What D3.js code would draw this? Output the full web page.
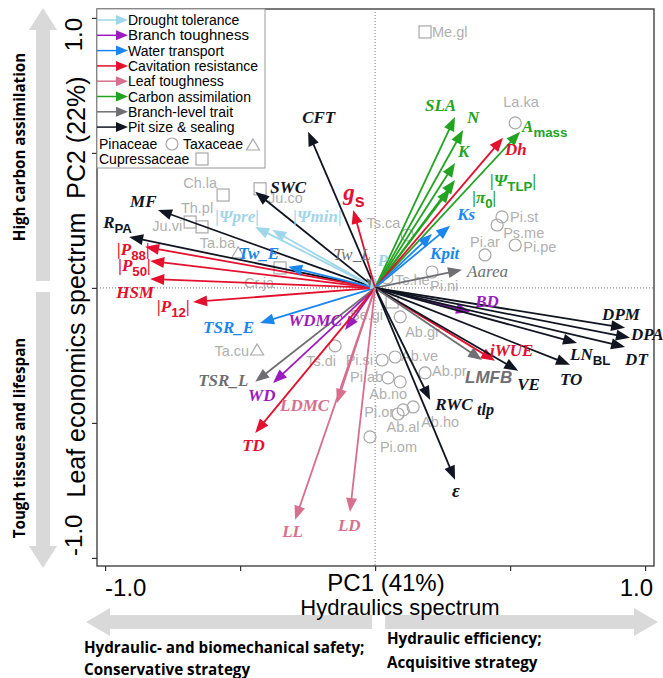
<!DOCTYPE html>
<html>
<head>
<meta charset="utf-8">
<script src="https://cdn.jsdelivr.net/npm/d3@7"></script>
<style>
  body { margin: 0; background: #fff; }
</style>
</head>
<body>
<div id="chart"></div>
<script>
// trait groups (legend order)
const groups = ["Drought tolerance", "Branch toughness", "Water transport", "Cavitation resistance",
  "Leaf toughness", "Carbon assimilation", "Branch-level trait", "Pit size & sealing"];
const groupColors = ["#9fd6ea", "#9b1cbd", "#1a86f0", "#e3102e", "#d6708e", "#22a323", "#6f6f73", "#111521"];

// trait loadings on PC1 / PC2
const traitNames = ["CFT", "SWC", "MF", "R_{PA}", "|P_{88}|", "|P_{50}|", "HSM", "|P_{12}|", "TSR_E", "Tw_E",
  "|Ψpre|", "|Ψmin|", "Tw_L", "P", "g_{s}", "SLA", "N", "K", "|Ψ_{TLP}|", "|π_{0}|",
  "A_{mass}", "Dh", "Ks", "Kpit", "Aarea", "BD", "DPM", "DPA", "DT", "LN_{BL}",
  "TO", "iWUE", "VE", "LMFB", "RWC _[tlp]", "ε", "WDMC", "WD", "TSR_L", "TD", "LDMC", "LL", "LD"];
const traitGroup = [7, 7, 7, 7, 3, 3, 3, 3, 2, 2,
  0, 0, 6, 0, 3, 5, 5, 5, 5, 5,
  5, 3, 2, 2, 6, 1, 7, 7, 7, 7,
  7, 3, 7, 6, 7, 7, 1, 1, 6, 3, 4, 4, 4];
const traitPC1 = [-0.248, -0.444, -0.804, -0.911, -0.852, -0.833, -0.833, -0.674, -0.426, -0.322,
  -0.444, -0.381, -0.033, -0.01, -0.081, 0.296, 0.326, 0.296, 0.296, 0.278,
  0.537, 0.474, 0.278, 0.211, 0.322, 0.352, 0.926, 0.944, 0.926, 0.748,
  0.722, 0.444, 0.530, 0.396, 0.204, 0.296, -0.111, -0.378, -0.444, -0.444, -0.141, -0.296, -0.093];
const traitPC2 = [0.578, 0.356, 0.289, 0.189, 0.152, 0.100, 0.033, -0.052, -0.130, 0.078,
  0.226, 0.215, 0.037, 0.05, 0.289, 0.633, 0.585, 0.463, 0.400, 0.367,
  0.578, 0.556, 0.230, 0.200, 0.067, -0.089, -0.148, -0.185, -0.219, -0.204,
  -0.285, -0.270, -0.307, -0.267, -0.415, -0.711, -0.156, -0.352, -0.348, -0.537, -0.426, -0.859, -0.830];

// species scores
const families = ["Pinaceae", "Taxaceae", "Cupressaceae"];
const speciesNames = ["Me.gl", "La.ka", "Ch.la", "Th.pl", "Ju.vi", "Ta.ba", "Ju.co", "Cr.ja", "Ts.ca", "Ts.he",
  "Pi.ni", "Pi.st", "Ps.me", "Pi.pe", "Pi.ar", "Se.gi", "Ab.gr", "Ts.di", "Pi.si", "Ab.ve",
  "Pi.ab", "Ab.pr", "Ab.no", "Pi.or", "Ab.ho", "Ab.al", "Pi.om", "Ta.cu"];
const speciesFamily = [2, 0, 2, 2, 2, 1, 2, 2, 0, 0,
  0, 0, 0, 0, 0, 2, 0, 0, 0, 0,
  0, 0, 0, 0, 0, 0, 0, 1];
const speciesPC1 = [0.185, 0.519, -0.563, -0.641, -0.685, -0.507, -0.426, -0.352, 0.119, 0.044,
  0.211, 0.470, 0.452, 0.519, 0.407, 0.063, 0.093, -0.148, 0.026, 0.074,
  0.048, 0.185, 0.093, 0.104, 0.141, 0.085, -0.019, -0.437];
const speciesPC2 = [0.948, 0.611, 0.344, 0.226, 0.244, 0.130, 0.367, 0.074, 0.196, 0.037,
  0.059, 0.263, 0.233, 0.159, 0.122, -0.052, -0.107, -0.215, -0.267, -0.256,
  -0.333, -0.315, -0.348, -0.452, -0.441, -0.467, -0.552, -0.230];

const axisTicks = [-1, -0.5, 0, 0.5, 1];

// label placement (pixels from arrow tip / symbol)
const traitLabelPos = {
  "CFT": [-6, -9], "SWC": [15, 1], "MF": [-28, -3], "R_{PA}": [-26, -9], "|P_{88}|": [-28, 8],
  "|P_{50}|": [-32, 10], "HSM": [-34, 19], "|P_{12}|": [-36, 10], "TSR_E": [-57, 10], "Tw_E": [-50, -8],
  "|Ψpre|": [-40, -5], "|Ψmin|": [21, -8], "Tw_L": [-33, -18], "P": [5, -8], "g_{s}": [-10, -10],
  "SLA": [-30, -6], "N": [4, -7], "K": [3, -6], "|Ψ_{TLP}|": [35, 6], "|π_{0}|": [22, 14],
  "A_{mass}": [2, 0], "Dh": [2, 17], "Ks": [7, -6], "Kpit": [-2, 25], "Aarea": [5, 7],
  "BD": [5, -5], "DPM": [-23, -8], "DPA": [1, 2], "DT": [0, 18], "LN_{BL}": [-7, 17],
  "TO": [-10, 20], "iWUE": [-5, -5], "VE": [-1, 19], "LMFB": [-17, 23], "RWC _[tlp]": [5, 10],
  "ε": [-3, 17], "WDMC": [-57, -4], "WD": [-25, 18], "TSR_L": [-57, 4], "TD": [-13, 18],
  "LDMC": [-57, 8], "LL": [-13, 17], "LD": [-12, 19]
};
const traitLabelStyle = {
  "Tw_L": { weight: "normal" }, "Aarea": { weight: "normal" },
  "LMFB": { family: "Liberation Sans, Arial, sans-serif" },
  "g_{s}": { size: 23 }, "ε": { size: 19 }
};
const speciesLabelPos = {
  "Me.gl": [7, 5, "start"], "La.ka": [-12, -16, "start"], "Ch.la": [-6, -7, "end"], "Th.pl": [-5, -14, "middle"],
  "Ju.vi": [-8, 9, "end"], "Ta.ba": [-3, -5, "end"], "Ju.co": [8, 14, "start"], "Cr.ja": [-21, 20, "middle"],
  "Ts.ca": [-7, -7, "end"], "Ts.he": [8, 7, "start"], "Pi.ni": [-2, 19, "start"], "Pi.st": [8, 5, "start"],
  "Ps.me": [6, 13, "start"], "Pi.pe": [8, 7, "start"], "Pi.ar": [0, -8, "middle"], "Se.gi": [-9, 18, "end"],
  "Ab.gr": [5, 20, "start"], "Ts.di": [-14, 20, "middle"], "Pi.si": [-9, 5, "end"], "Ab.ve": [6, 4, "start"],
  "Pi.ab": [-5, 4, "end"], "Ab.pr": [7, 3, "start"], "Ab.no": [-12, 17, "middle"], "Pi.or": [-9, 7, "end"],
  "Ab.ho": [8, 20, "start"], "Ab.al": [5, 18, "middle"], "Pi.om": [10, 15, "start"], "Ta.cu": [-8, 6, "end"]
};

const width = 663;
const height = 678;
const plot = { left: 97, right: 654, top: 9, bottom: 566 };
const sans = "Liberation Sans, Arial, sans-serif";
const serif = "Liberation Serif, Times New Roman, serif";
const grey = "#b0b0b0";

const x = d3.scaleLinear().domain([-1.03, 1.033]).range([plot.left, plot.right]);
const y = d3.scaleLinear().domain([-1.03, 1.033]).range([plot.bottom, plot.top]);
const color = d3.scaleOrdinal().domain(d3.range(groups.length)).range(groupColors);

const svg = d3.select("#chart").append("svg")
  .attr("width", width)
  .attr("height", height)
  .attr("font-family", sans);

// text with sub-scripts: _{..} sans, _[..] serif
const richText = (sel, str, size) => {
  let shift = 0;
  str.split(/(_\{[^}]*\}|_\[[^\]]*\])/).filter(s => s.length).forEach(part => {
    const isSub = part.startsWith("_{") || part.startsWith("_[");
    const target = isSub ? size * 0.32 : 0;
    const t = sel.append("tspan").attr("dy", target - shift);
    shift = target;
    if (isSub) {
      t.text(part.slice(2, -1));
      if (part[1] === "{") {
        t.attr("font-family", sans).attr("font-style", "normal")
          .attr("font-size", size * 0.78);
      } else {
        t.attr("font-size", size * 0.95);
      }
    } else {
      t.text(part);
    }
  });
};

const arrowHead = (x1, y1, len, half, ang) => {
  const bx = x1 - len * Math.cos(ang), by = y1 - len * Math.sin(ang);
  const px = -Math.sin(ang) * half, py = Math.cos(ang) * half;
  return "M" + x1 + "," + y1 + "L" + (bx + px) + "," + (by + py) + "L" + (bx - px) + "," + (by - py) + "Z";
};

// ---- side decorations (grey block arrows)
const bigGrey = "#d9d9d9";
const vArrow = (cx, yTip, yBase) => {
  const dir = yTip < yBase ? 1 : -1;
  const hl = 22, sw = 7, hw = 14;
  return "M" + cx + "," + yTip +
    "L" + (cx + hw) + "," + (yTip + dir * hl) + "L" + (cx + sw) + "," + (yTip + dir * hl) +
    "L" + (cx + sw) + "," + yBase + "L" + (cx - sw) + "," + yBase +
    "L" + (cx - sw) + "," + (yTip + dir * hl) + "L" + (cx - hw) + "," + (yTip + dir * hl) + "Z";
};
const hArrow = (cy, xTip, xBase) => {
  const dir = xTip < xBase ? 1 : -1;
  const hl = 24, sw = 7, hw = 14;
  return "M" + xTip + "," + cy +
    "L" + (xTip + dir * hl) + "," + (cy - hw) + "L" + (xTip + dir * hl) + "," + (cy - sw) +
    "L" + xBase + "," + (cy - sw) + "L" + xBase + "," + (cy + sw) +
    "L" + (xTip + dir * hl) + "," + (cy + sw) + "L" + (xTip + dir * hl) + "," + (cy + hw) + "Z";
};
svg.append("path").attr("d", vArrow(43, plot.top - 1, y(0) - 7)).attr("fill", bigGrey);
svg.append("path").attr("d", vArrow(43, plot.bottom + 2, y(0) + 4)).attr("fill", bigGrey);
svg.append("path").attr("d", hArrow(622, 86, x(0) - 3)).attr("fill", bigGrey);
svg.append("path").attr("d", hArrow(622, 658, x(0) + 10)).attr("fill", bigGrey);

const boldNote = (tx, ty, str, rot) => svg.append("text")
  .attr("transform", "translate(" + tx + "," + ty + ")" + (rot ? " rotate(-90)" : ""))
  .attr("text-anchor", rot ? "middle" : "start")
  .style("font-family", "'Open Sans', sans-serif")
  .style("font-weight", "bold")
  .style("font-size", "15.2px")
  .text(str);
boldNote(25, 147, "High carbon assimilation", true);
boldNote(25, 438, "Tough tissues and lifespan", true);
boldNote(84, 653, "Hydraulic- and biomechanical safety;");
boldNote(84, 675, "Conservative strategy");
boldNote(387, 644, "Hydraulic efficiency;");
boldNote(387, 668, "Acquisitive strategy");

// ---- frame and axes
svg.append("rect")
  .attr("x", plot.left).attr("y", plot.top)
  .attr("width", plot.right - plot.left).attr("height", plot.bottom - plot.top)
  .attr("fill", "none").attr("stroke", "#333").attr("stroke-width", 1.3);

svg.append("line")
  .attr("x1", x(0)).attr("x2", x(0)).attr("y1", plot.top).attr("y2", plot.bottom)
  .attr("stroke", "#777").attr("stroke-dasharray", "1,2");
svg.append("line")
  .attr("x1", plot.left).attr("x2", plot.right).attr("y1", y(0)).attr("y2", y(0))
  .attr("stroke", "#777").attr("stroke-dasharray", "1,2");

const yAxis = svg.append("g").attr("transform", "translate(" + plot.left + ",0)")
  .call(d3.axisLeft(y).tickValues(axisTicks).tickSize(5).tickFormat(""));
const xAxis = svg.append("g").attr("transform", "translate(0," + plot.bottom + ")")
  .call(d3.axisBottom(x).tickValues(axisTicks).tickSize(5).tickFormat(""));
[yAxis, xAxis].forEach(a => {
  a.select(".domain").remove();
  a.selectAll(".tick line").attr("stroke", "#333").attr("stroke-width", 1.2);
});

const tickFont = "24px";
svg.append("text").attr("transform", "translate(82," + y(1) + ") rotate(-90)")
  .attr("text-anchor", "end").style("font-size", tickFont).text("1.0");
svg.append("text").attr("transform", "translate(82," + (y(-1) - 2) + ") rotate(-90)")
  .attr("text-anchor", "start").style("font-size", tickFont).text("-1.0");
svg.append("text").attr("x", x(-1)).attr("y", 596)
  .attr("text-anchor", "start").style("font-size", tickFont).text("-1.0");
svg.append("text").attr("x", x(1) + 8).attr("y", 596)
  .attr("text-anchor", "end").style("font-size", tickFont).text("1.0");

svg.append("text").attr("transform", "translate(85,287) rotate(-90)")
  .attr("text-anchor", "middle").style("font-size", "25px")
  .attr("xml:space", "preserve")
  .text("Leaf economics spectrum  PC2 (22%)");
svg.append("text").attr("x", 386).attr("y", 591)
  .attr("text-anchor", "middle").style("font-size", "24px").text("PC1 (41%)");
svg.append("text").attr("x", 400).attr("y", 615)
  .attr("text-anchor", "middle").style("font-size", "22px").text("Hydraulics spectrum");

// ---- species
const species = speciesNames.map((n, i) => ({ name: n, fam: speciesFamily[i], pc1: speciesPC1[i], pc2: speciesPC2[i] }));
const symbol = (g, fam, cx, cy) => {
  if (fam === 0) {
    g.append("circle").attr("cx", cx).attr("cy", cy).attr("r", 6);
  } else if (fam === 1) {
    g.append("path").attr("d", "M" + cx + "," + (cy - 6) + "L" + (cx + 6.5) + "," + (cy + 5) + "L" + (cx - 6.5) + "," + (cy + 5) + "Z");
  } else {
    g.append("rect").attr("x", cx - 6).attr("y", cy - 6).attr("width", 12).attr("height", 12);
  }
};
const spG = svg.append("g").attr("fill", "none").attr("stroke", "#a8a8a8").attr("stroke-width", 1.2);
species.forEach(d => symbol(spG, d.fam, x(d.pc1), y(d.pc2)));
svg.append("g").selectAll("text")
  .data(species)
  .enter().append("text")
  .attr("x", d => x(d.pc1) + speciesLabelPos[d.name][0])
  .attr("y", d => y(d.pc2) + speciesLabelPos[d.name][1])
  .attr("text-anchor", d => speciesLabelPos[d.name][2])
  .attr("fill", grey)
  .style("font-size", "14.5px")
  .text(d => d.name);

// ---- trait arrows
const traits = traitNames.map((n, i) => ({ name: n, g: traitGroup[i], pc1: traitPC1[i], pc2: traitPC2[i] }));
const angle = d => Math.atan2(y(d.pc2) - y(0), x(d.pc1) - x(0));
const arrows = svg.append("g").selectAll(".arrow")
  .data(traits)
  .enter().append("g")
  .attr("class", "arrow");

arrows.append("line")
  .attr("x1", x(0)).attr("y1", y(0))
  .attr("x2", d => x(d.pc1) - 10 * Math.cos(angle(d)))
  .attr("y2", d => y(d.pc2) - 10 * Math.sin(angle(d)))
  .attr("stroke", d => color(d.g))
  .attr("stroke-width", 1.8);

arrows.append("path")
  .attr("d", d => arrowHead(x(d.pc1), y(d.pc2), 14, 5.5, angle(d)))
  .attr("fill", d => color(d.g));

traits.forEach(d => {
  const st = traitLabelStyle[d.name] || {};
  const size = st.size || 17;
  const t = svg.append("text")
    .attr("x", x(d.pc1) + traitLabelPos[d.name][0])
    .attr("y", y(d.pc2) + traitLabelPos[d.name][1])
    .attr("fill", color(d.g))
    .attr("font-family", st.family || serif)
    .attr("font-weight", st.weight || "bold")
    .attr("font-style", "italic")
    .attr("font-size", size);
  richText(t, d.name, size);
});

// ---- legend
const legend = svg.append("g");
legend.append("rect")
  .attr("x", plot.left).attr("y", plot.top)
  .attr("width", 168).attr("height", 159)
  .attr("fill", "#fff").attr("stroke", "#999").attr("stroke-width", 1);

const legendItems = legend.selectAll(".item")
  .data(groups)
  .enter().append("g")
  .attr("class", "item")
  .attr("transform", (d, i) => "translate(" + plot.left + "," + (20 + i * 15.3) + ")");
legendItems.append("line")
  .attr("x1", 0).attr("x2", 20).attr("y1", 0).attr("y2", 0)
  .attr("stroke", (d, i) => color(i)).attr("stroke-width", 1.5);
legendItems.append("path")
  .attr("d", arrowHead(31, 0, 12, 5, 0))
  .attr("fill", (d, i) => color(i));
legendItems.append("text")
  .attr("x", 31).attr("y", 5)
  .style("font-size", (d, i) => i === 1 ? "15px" : "14px")
  .text(d => d);

const famG = legend.append("g");
famG.append("text").attr("x", 99).attr("y", 149).style("font-size", "14px").text(families[0]);
famG.append("text").attr("x", 183).attr("y", 149).style("font-size", "14px").text(families[1]);
famG.append("text").attr("x", 99).attr("y", 164).style("font-size", "14px").text(families[2]);
const famSym = legend.append("g").attr("fill", "none").attr("stroke", "#a8a8a8").attr("stroke-width", 1.2);
symbol(famSym, 0, 172, 144);
symbol(famSym, 1, 253, 145);
symbol(famSym, 2, 202, 159);
</script>
</body>
</html>
